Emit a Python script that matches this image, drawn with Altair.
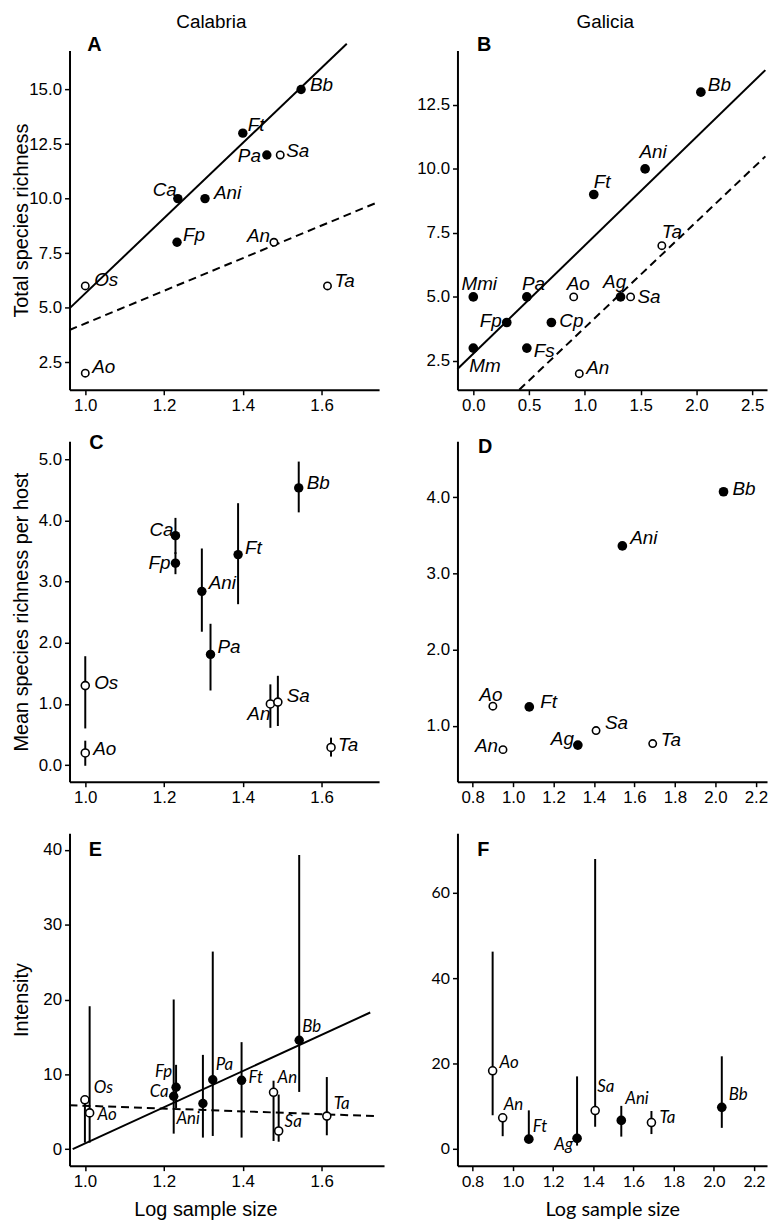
import altair as alt
import pandas as pd

SANS = "Liberation Sans"
HUM = "Lato"

# ---------------- Panel A : Calabria, total species richness ----------------
A_host = ["Bb", "Ft", "Pa", "Sa", "Ca", "Ani", "Fp", "An", "Os", "Ta", "Ao"]
A_logn = [1.548, 1.400, 1.461, 1.495, 1.235, 1.304, 1.233, 1.479, 1.000, 1.615, 1.000]
A_rich = [15, 13, 12, 12, 10, 10, 8, 8, 6, 6, 2]
A_fill = [1, 1, 1, 0, 1, 1, 1, 0, 0, 0, 0]
A_solid_x = [0.960, 1.664]
A_solid_y = [4.97, 17.10]
A_dash_x = [0.960, 1.746]
A_dash_y = [3.98, 9.86]

# ---------------- Panel B : Galicia, total species richness ----------------
B_host = ["Bb", "Ani", "Ft", "Ta", "Mmi", "Pa", "Ao", "Ag", "Sa", "Fp", "Cp", "Mm", "Fs", "An"]
B_logn = [2.04, 1.54, 1.08, 1.69, 0.00, 0.48, 0.90, 1.32, 1.41, 0.30, 0.70, 0.00, 0.48, 0.95]
B_rich = [13, 10, 9, 7, 5, 5, 5, 5, 5, 4, 4, 3, 3, 2]
B_fill = [1, 1, 1, 0, 1, 1, 0, 1, 0, 1, 1, 1, 1, 0]
B_solid_x = [-0.142, 2.618]
B_solid_y = [2.18, 13.86]
B_dash_x = [0.412, 2.618]
B_dash_y = [1.37, 10.49]

# ---------------- Panel C : Calabria, mean richness per host ----------------
C_host = ["Bb", "Ca", "Fp", "Ft", "Ani", "Pa", "Os", "Ao", "An", "Sa", "Ta"]
C_logn = [1.542, 1.229, 1.229, 1.388, 1.296, 1.318, 1.000, 1.000, 1.470, 1.489, 1.624]
C_mean = [4.53, 3.75, 3.30, 3.44, 2.84, 1.81, 1.30, 0.20, 1.00, 1.03, 0.29]
C_lo = [4.13, 3.45, 3.12, 2.63, 2.18, 1.22, 0.60, -0.01, 0.61, 0.64, 0.14]
C_hi = [4.96, 4.04, 3.48, 4.28, 3.54, 2.31, 1.78, 0.40, 1.32, 1.46, 0.45]
C_fill = [1, 1, 1, 1, 1, 1, 0, 0, 0, 0, 0]

# ---------------- Panel D : Galicia, mean richness per host ----------------
D_host = ["Bb", "Ani", "Ft", "Ao", "Sa", "Ag", "Ta", "An"]
D_logn = [2.04, 1.54, 1.08, 0.90, 1.41, 1.32, 1.69, 0.95]
D_mean = [4.07, 3.36, 1.25, 1.26, 0.94, 0.75, 0.77, 0.69]
D_fill = [1, 1, 1, 0, 0, 1, 0, 0]

# ---------------- Panel E : Calabria, intensity ----------------
E_host = ["Os", "Ao", "Ca", "Fp", "Ani", "Pa", "Ft", "Bb", "An", "Sa", "Ta"]
E_logn = [1.000, 1.012, 1.225, 1.231, 1.299, 1.324, 1.397, 1.543, 1.478, 1.491, 1.613]
E_int = [6.6, 4.85, 7.07, 8.27, 6.1, 9.28, 9.2, 14.55, 7.6, 2.43, 4.42]
E_lo = [0.88, 0.88, 2.08, 5.5, 1.55, 1.77, 1.55, 7.65, 1.1, 1.0, 1.86]
E_hi = [6.6, 19.1, 20.0, 11.27, 12.6, 26.4, 14.3, 39.3, 9.15, 7.3, 9.64]
E_fill = [0, 0, 1, 1, 1, 1, 1, 1, 0, 0, 0]
E_solid_x = [0.969, 1.723]
E_solid_y = [0.0, 18.26]
E_dash_x = [0.961, 1.736]
E_dash_y = [5.88, 4.42]

# ---------------- Panel F : Galicia, intensity ----------------
F_host = ["Ao", "An", "Ft", "Ag", "Sa", "Ani", "Ta", "Bb"]
F_logn = [0.90, 0.95, 1.08, 1.32, 1.41, 1.54, 1.69, 2.04]
F_int = [18.3, 7.3, 2.3, 2.5, 9.0, 6.7, 6.2, 9.75]
F_lo = [7.9, 3.0, 2.3, 0.8, 5.2, 2.9, 3.5, 4.95]
F_hi = [46.2, 7.3, 9.05, 17.0, 67.9, 10.1, 8.9, 21.7]
F_fill = [0, 0, 1, 1, 0, 1, 0, 1]

# ---------------- label placement (style only) ----------------
A_off = {"Bb": ("left", 9, -4), "Ft": ("left", 5, -8), "Pa": ("right", -6, 1), "Sa": ("left", 6, -4),
         "Ca": ("right", -1, -9), "Ani": ("left", 9, -6), "Fp": ("left", 6, -7), "An": ("right", -4, -6),
         "Os": ("left", 9, -6), "Ta": ("left", 7, -5), "Ao": ("left", 7, -6)}
B_off = {"Bb": ("left", 7, -7), "Ani": ("center", 8, -17), "Ft": ("left", 0, -13), "Ta": ("left", 0, -14),
         "Mmi": ("center", 6, -13), "Pa": ("left", -5, -13), "Ao": ("left", -7, -13), "Ag": ("center", -6, -15),
         "Sa": ("left", 7, 0), "Fp": ("right", -5, -1), "Cp": ("left", 8, -1), "Mm": ("left", -4, 18),
         "Fs": ("left", 7, 3), "An": ("left", 7, -6)}
C_off = {"Bb": ("left", 8, -5), "Ca": ("right", -2, -6), "Fp": ("right", -5, 0), "Ft": ("left", 7, -7),
         "Ani": ("left", 7, -8), "Pa": ("left", 7, -7), "Os": ("left", 9, -3), "Ao": ("left", 8, -4),
         "An": ("right", 0, 10), "Sa": ("left", 9, -6), "Ta": ("left", 7, -2)}
D_off = {"Bb": ("left", 9, -3), "Ani": ("left", 8, -8), "Ft": ("left", 11, -5), "Ao": ("center", -2, -11),
         "Sa": ("left", 9, -8), "Ag": ("right", -4, -6), "Ta": ("left", 8, -4), "An": ("right", -5, -4)}
E_off = {"Os": ("left", 9, -12), "Ao": ("left", 8, 2), "Fp": ("right", -4, -15), "Ca": ("right", -5, -4),
         "Ani": ("right", -3, 16), "Pa": ("left", 3, -15), "Ft": ("left", 7, -2), "An": ("left", 4, -14),
         "Bb": ("left", 3, -13), "Sa": ("left", 6, -9), "Ta": ("left", 7, -12)}
F_off = {"Ao": ("left", 7, -8), "An": ("left", 1, -13), "Ft": ("left", 4, -12), "Ag": ("right", -4, 7),
         "Sa": ("left", 2, -24), "Ani": ("left", 4, -22), "Ta": ("left", 8, -5), "Bb": ("left", 7, -12)}


def axis(values, fmt, title=None, font=SANS, size=17, extent=None, title_pad=0, title_font=SANS, title_x=None):
    kw = dict(values=values, format=fmt, grid=False, domainColor="black", domainWidth=2,
              tickColor="black", tickWidth=1.5, tickSize=5, labelPadding=3,
              labelFont=font, labelFontSize=size, labelColor="black",
              labelOverlap=False, labelFlush=False)
    if title is None:
        kw["title"] = None
    else:
        kw.update(title=title, titleFont=title_font, titleFontSize=20, titleFontWeight="normal",
                  titleColor="black", titlePadding=title_pad)
        if title_x is not None:
            kw.update(titleX=title_x, titleAlign="center")
    if extent is not None:
        kw.update(minExtent=extent, maxExtent=extent)
    return alt.Axis(**kw)


def panel(host, x, y, fill, xdom, ydom, xax, yax, width, height, offsets, letter,
          letter_xy, lfont=SANS, lsize=19, lo=None, hi=None, lines=(), fsize=90, osize=45,
          title=None):
    df = pd.DataFrame({"host": host, "x": x, "y": y, "filled": fill})
    if lo is not None:
        df["lo"] = lo
        df["hi"] = hi
    xs = alt.Scale(domain=xdom, nice=False, zero=False)
    ys = alt.Scale(domain=ydom, nice=False, zero=False)
    X = alt.X("x:Q", scale=xs, axis=xax)
    Y = alt.Y("y:Q", scale=ys, axis=yax)
    layers = []
    for lx, ly, dash in lines:
        ldf = pd.DataFrame({"x": lx, "y": ly})
        mk = dict(color="black", strokeWidth=2, clip=False)
        if dash:
            mk["strokeDash"] = [8, 5]
        layers.append(alt.Chart(ldf).mark_line(**mk).encode(x=X, y=Y))
    base = alt.Chart(df)
    if lo is not None:
        layers.append(base.mark_rule(color="black", strokeWidth=2).encode(
            x=X, y=alt.Y("lo:Q", scale=ys, axis=yax), y2=alt.Y2("hi:Q")))
    layers.append(base.transform_filter("datum.filled == 1").mark_point(
        shape="circle", filled=True, color="black", opacity=1, size=fsize).encode(x=X, y=Y))
    layers.append(base.transform_filter("datum.filled == 0").mark_point(
        shape="circle", filled=True, fill="white", stroke="black", strokeWidth=1.6,
        opacity=1, size=osize).encode(x=X, y=Y))
    groups = {}
    for h, v in offsets.items():
        groups.setdefault(v, []).append(h)
    for (al, dx, dy), names in groups.items():
        layers.append(base.transform_filter(alt.FieldOneOfPredicate(field="host", oneOf=names)).mark_text(
            align=al, baseline="middle", dx=dx, dy=dy, font=lfont, fontSize=lsize,
            fontStyle="italic", color="black").encode(x=X, y=Y, text="host:N"))
    layers.append(alt.Chart(pd.DataFrame({"t": [letter]})).mark_text(
        font=SANS, fontSize=20, fontWeight="bold", align="center", baseline="middle", color="black"
    ).encode(x=alt.value(letter_xy[0]), y=alt.value(letter_xy[1]), text="t:N"))
    props = dict(width=width, height=height)
    if title is not None:
        props["title"] = title
    return alt.layer(*layers).properties(**props)


calabria = alt.TitleParams("Calabria", font=SANS, fontSize=19, fontWeight="normal", color="black",
                           anchor="middle", dx=-13, offset=4)
galicia = alt.TitleParams("Galicia", font=SANS, fontSize=19, fontWeight="normal", color="black",
                          anchor="middle", dx=-7, offset=4)

pA = panel(A_host, A_logn, A_rich, A_fill, [0.96, 1.746], [1.24, 16.79],
           axis([1.0, 1.2, 1.4, 1.6], ".1f"),
           axis([2.5, 5.0, 7.5, 10.0, 12.5, 15.0], ".1f", title="Total species richness", extent=38),
           312, 342, A_off, "A", (25, -5),
           lines=[(A_solid_x, A_solid_y, False), (A_dash_x, A_dash_y, True)],
           fsize=90, osize=55, title=calabria)

pB = panel(B_host, B_logn, B_rich, B_fill, [-0.142, 2.633], [1.37, 14.63],
           axis([0.0, 0.5, 1.0, 1.5, 2.0, 2.5], ".1f"),
           axis([2.5, 5.0, 7.5, 10.0, 12.5], ".1f"),
           312, 342, B_off, "B", (27, -5),
           lines=[(B_solid_x, B_solid_y, False), (B_dash_x, B_dash_y, True)],
           fsize=95, osize=55, title=galicia)

pC = panel(C_host, C_logn, C_mean, C_fill, [0.96, 1.746], [-0.27, 5.29],
           axis([1.0, 1.2, 1.4, 1.6], ".1f"),
           axis([0, 1, 2, 3, 4, 5], ".1f", title="Mean species richness per host", extent=38),
           312, 343, C_off, "C", (27, 2), lo=C_lo, hi=C_hi, fsize=90, osize=65)

pD = panel(D_host, D_logn, D_mean, D_fill, [0.725, 2.255], [0.27, 4.73],
           axis([0.8, 1.0, 1.2, 1.4, 1.6, 1.8, 2.0, 2.2], ".1f"),
           axis([1, 2, 3, 4], ".1f"),
           312, 343, D_off, "D", (28, 6), fsize=95, osize=55)

pE = panel(E_host, E_logn, E_int, E_fill, [0.961, 1.758], [-2.2, 42.2],
           axis([1.0, 1.2, 1.4, 1.6], ".1f", title="Log sample size", title_pad=10, title_x=137),
           axis([0, 10, 20, 30, 40], "d", title="Intensity", extent=38),
           317, 335, E_off, "E", (26, 17), lfont=HUM, lsize=17, lo=E_lo, hi=E_hi,
           lines=[(E_solid_x, E_solid_y, False), (E_dash_x, E_dash_y, True)],
           fsize=90, osize=65)

pF = panel(F_host, F_logn, F_int, F_fill, [0.725, 2.265], [-3.9, 73.9],
           axis([0.8, 1.0, 1.2, 1.4, 1.6, 1.8, 2.0, 2.2], ".1f", font=HUM, size=16,
                title="Log sample size", title_pad=10, title_font=HUM),
           axis([0, 20, 40, 60], "d", font=HUM, size=16),
           312, 335, F_off, "F", (26, 17), lfont=HUM, lsize=17, lo=F_lo, hi=F_hi,
           fsize=95, osize=65)

chart = alt.concat(pA, pB, pC, pD, pE, pF, columns=2, spacing={"row": 52, "column": 74},
                   bounds="flush").properties(
    padding={"left": 4, "top": 0, "right": 0, "bottom": 0}
).configure_view(stroke=None)

chart.save("out.html", embed_options={"renderer": "svg", "actions": False})
